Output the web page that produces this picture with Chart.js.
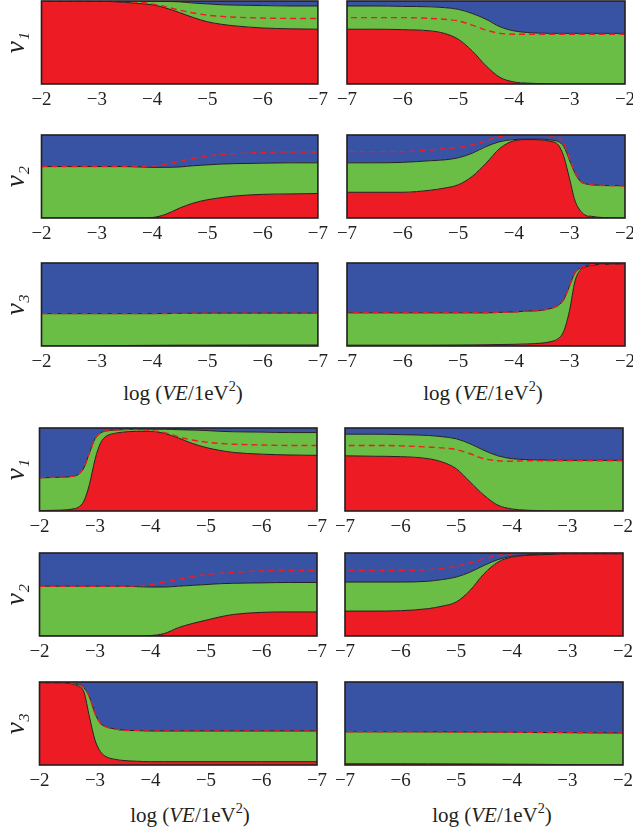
<!DOCTYPE html>
<html>
<head>
<meta charset="utf-8">
<script src="https://cdn.jsdelivr.net/npm/chart.js@4"></script>
<style>
html, body { margin: 0; padding: 0; background: #fff; }
body { width: 633px; height: 828px; position: relative; overflow: hidden; font-family: "Liberation Serif", serif; color: #231f20; }
.box { position: absolute; }
.xtitle { position: absolute; font-size: 21px; line-height: 24px; white-space: nowrap; transform: translateX(-50%); }
.xtitle sup { font-size: 0.68em; position: relative; top: -0.1em; }
</style>
</head>
<body>
<script>
/* ---------- data: x grid (log VE) and boundary curves ---------- */

const xs = [-2, -2.25, -2.5, -2.6, -2.7, -2.8, -2.9, -3, -3.1, -3.2, -3.35, -3.5, -3.75,
            -4, -4.25, -4.5, -4.75, -5, -5.25, -5.5, -6, -6.5, -7];

const tickValues = [-2, -3, -4, -5, -6, -7];

// top group, left column
const aRed   = [0.995,0.995,0.995,0.995,0.995,0.995,0.995,0.995,0.995,0.995,0.99,0.985,0.97,0.955,0.915,0.86,0.80,0.75,0.72,0.70,0.675,0.665,0.66];
const aGreen = [0.998,0.998,0.998,0.998,0.998,0.998,0.998,0.998,0.998,0.998,0.998,0.998,0.998,0.997,0.995,0.99,0.975,0.965,0.955,0.95,0.945,0.94,0.94];
const aDash  = [0.995,0.995,0.995,0.995,0.995,0.995,0.995,0.995,0.995,0.995,0.995,0.995,0.985,0.965,0.93,0.89,0.855,0.83,0.815,0.805,0.795,0.79,0.79];

const cRed   = [0,0,0,0,0,0,0,0,0,0,0,0,0,0.005,0.045,0.12,0.18,0.22,0.245,0.265,0.285,0.29,0.295];
const cGreen = [0.62,0.62,0.62,0.62,0.62,0.62,0.62,0.62,0.62,0.62,0.62,0.62,0.615,0.61,0.61,0.615,0.63,0.64,0.65,0.655,0.66,0.665,0.665];
const cDash  = [0.62,0.62,0.62,0.62,0.62,0.62,0.62,0.62,0.62,0.62,0.62,0.62,0.62,0.625,0.65,0.685,0.72,0.745,0.765,0.775,0.79,0.795,0.795];

const eRed   = [0,0,0,0,0,0,0,0.003,0.003,0.004,0.005,0.006,0.007,0.008,0.009,0.01,0.01,0.01,0.011,0.011,0.012,0.012,0.012];
const eGreen = [0.39,0.39,0.39,0.39,0.39,0.39,0.39,0.39,0.39,0.39,0.39,0.39,0.39,0.39,0.392,0.393,0.394,0.395,0.395,0.395,0.395,0.395,0.395];

// top group, right column
const bRed   = [0,0,0,0,0,0,0,0,0,0,0.002,0.005,0.01,0.025,0.08,0.22,0.40,0.54,0.61,0.64,0.655,0.66,0.66];
const bGreen = [0.61,0.61,0.61,0.61,0.61,0.61,0.61,0.61,0.61,0.61,0.61,0.612,0.62,0.64,0.69,0.78,0.85,0.90,0.92,0.93,0.935,0.94,0.94];
const bDash  = [0.60,0.60,0.60,0.60,0.60,0.60,0.60,0.60,0.60,0.60,0.60,0.60,0.60,0.60,0.61,0.65,0.71,0.76,0.78,0.79,0.80,0.80,0.80];

const dRed   = [0,0.002,0.01,0.02,0.03,0.085,0.21,0.48,0.74,0.88,0.925,0.94,0.945,0.93,0.84,0.66,0.50,0.40,0.36,0.335,0.31,0.31,0.31];
const dGreen = [0.39,0.39,0.395,0.40,0.41,0.44,0.54,0.70,0.86,0.92,0.94,0.95,0.95,0.945,0.92,0.86,0.78,0.725,0.70,0.69,0.67,0.665,0.665];
const dDash  = [0.385,0.39,0.395,0.40,0.41,0.44,0.55,0.72,0.90,0.97,0.99,0.995,0.995,0.995,0.985,0.93,0.88,0.85,0.835,0.82,0.80,0.80,0.80];

const fRed   = [0.99,0.985,0.98,0.97,0.955,0.92,0.78,0.42,0.18,0.09,0.05,0.035,0.025,0.02,0.018,0.015,0.013,0.012,0.011,0.01,0.01,0.01,0.01];
const fGreen = [0.995,0.99,0.985,0.98,0.97,0.94,0.88,0.72,0.56,0.49,0.45,0.43,0.42,0.41,0.405,0.40,0.40,0.40,0.40,0.40,0.40,0.40,0.40];

// bottom group, left column
const gRed   = [0.005,0.008,0.015,0.025,0.045,0.12,0.32,0.62,0.82,0.90,0.935,0.95,0.96,0.96,0.935,0.88,0.815,0.765,0.73,0.705,0.685,0.675,0.67];
const gGreen = [0.40,0.405,0.41,0.42,0.44,0.52,0.70,0.87,0.94,0.965,0.975,0.98,0.985,0.985,0.985,0.98,0.975,0.97,0.96,0.955,0.95,0.945,0.945];
const gDash  = [0.40,0.405,0.41,0.42,0.44,0.52,0.70,0.87,0.94,0.965,0.975,0.98,0.98,0.97,0.945,0.895,0.855,0.83,0.815,0.805,0.795,0.79,0.79];

const iRed   = [0,0,0,0,0,0,0,0,0,0,0,0,0,0.005,0.03,0.10,0.15,0.19,0.23,0.26,0.285,0.29,0.29];
const iGreen = [0.60,0.60,0.60,0.60,0.60,0.60,0.60,0.60,0.60,0.60,0.60,0.60,0.595,0.59,0.59,0.60,0.61,0.62,0.63,0.635,0.64,0.645,0.645];
const iDash  = [0.60,0.60,0.60,0.60,0.60,0.60,0.60,0.60,0.60,0.60,0.60,0.60,0.605,0.62,0.65,0.68,0.715,0.74,0.755,0.765,0.785,0.79,0.79];

const kRed   = [0.99,0.99,0.985,0.975,0.95,0.88,0.58,0.30,0.16,0.10,0.07,0.055,0.045,0.04,0.04,0.04,0.04,0.04,0.04,0.04,0.04,0.04,0.04];
const kGreen = [0.992,0.992,0.99,0.985,0.97,0.93,0.82,0.62,0.50,0.46,0.435,0.42,0.415,0.41,0.41,0.41,0.41,0.41,0.41,0.41,0.41,0.41,0.41];

// bottom group, right column
const hRed   = [0,0,0,0,0,0,0,0,0,0,0.002,0.005,0.01,0.025,0.07,0.19,0.35,0.51,0.59,0.63,0.655,0.66,0.665];
const hGreen = [0.61,0.61,0.61,0.61,0.61,0.61,0.61,0.61,0.61,0.61,0.612,0.615,0.62,0.63,0.665,0.73,0.81,0.87,0.895,0.91,0.92,0.925,0.925];
const hDash  = [0.605,0.605,0.605,0.605,0.605,0.605,0.605,0.605,0.605,0.605,0.605,0.605,0.605,0.60,0.605,0.63,0.69,0.74,0.76,0.77,0.785,0.79,0.79];

const jRed   = [0.99,0.99,0.99,0.99,0.99,0.99,0.99,0.99,0.99,0.985,0.982,0.978,0.97,0.95,0.89,0.75,0.55,0.41,0.36,0.33,0.305,0.30,0.30];
const jGreen = [0.992,0.992,0.992,0.992,0.992,0.992,0.992,0.992,0.992,0.99,0.988,0.985,0.978,0.96,0.92,0.85,0.77,0.71,0.68,0.66,0.65,0.65,0.65];
const jDash  = [0.995,0.995,0.995,0.995,0.995,0.995,0.995,0.995,0.995,0.995,0.995,0.995,0.995,0.99,0.97,0.93,0.88,0.84,0.815,0.80,0.79,0.79,0.79];

const lRed   = [0.002,0.003,0.004,0.004,0.005,0.005,0.005,0.005,0.006,0.006,0.007,0.008,0.009,0.01,0.011,0.012,0.013,0.013,0.014,0.014,0.015,0.015,0.015];
const lGreen = [0.385,0.386,0.387,0.388,0.388,0.389,0.389,0.39,0.39,0.391,0.391,0.392,0.393,0.395,0.396,0.397,0.398,0.398,0.399,0.399,0.40,0.40,0.40];

/* ---------- colours ---------- */

const RED = "#ed1c24";
const GREEN = "#6abd45";
const BLUE = "#3953a4";
const INK = "#231f20";

/* ---------- panel layout ---------- */

const panels = [
    { red: aRed, green: aGreen, dash: aDash,  label: "ν₁", col: 0, top: 1,   left: 41.5, right: 318 },
    { red: bRed, green: bGreen, dash: bDash,  label: null, col: 1, top: 1,   left: 347,  right: 625 },
    { red: cRed, green: cGreen, dash: cDash,  label: "ν₂", col: 0, top: 135, left: 41.5, right: 318 },
    { red: dRed, green: dGreen, dash: dDash,  label: null, col: 1, top: 135, left: 347,  right: 625 },
    { red: eRed, green: eGreen, dash: eGreen, label: "ν₃", col: 0, top: 263, left: 41.5, right: 318 },
    { red: fRed, green: fGreen, dash: fGreen, label: null, col: 1, top: 263, left: 347,  right: 625 },
    { red: gRed, green: gGreen, dash: gDash,  label: "ν₁", col: 0, top: 428, left: 39.5, right: 317 },
    { red: hRed, green: hGreen, dash: hDash,  label: null, col: 1, top: 428, left: 345,  right: 623 },
    { red: iRed, green: iGreen, dash: iDash,  label: "ν₂", col: 0, top: 553, left: 39.5, right: 317 },
    { red: jRed, green: jGreen, dash: jDash,  label: null, col: 1, top: 553, left: 345,  right: 623 },
    { red: kRed, green: kGreen, dash: kGreen, label: "ν₃", col: 0, top: 682, left: 39.5, right: 317 },
    { red: lRed, green: lGreen, dash: lGreen, label: null, col: 1, top: 682, left: 345,  right: 623 }
];

const PANEL_H = 83;
const PAD_TOP = 3;
const XAXIS_H = 27;

/* ---------- frame round each plot ---------- */

const framePlugin = {
    id: "frame",
    afterDatasetsDraw(chart) {
        const { ctx, chartArea: a } = chart;
        ctx.save();
        ctx.strokeStyle = INK;
        ctx.lineWidth = 1.6;
        ctx.strokeRect(a.left, a.top, a.right - a.left, a.bottom - a.top);
        ctx.restore();
    }
};

function points(values) {
    return xs.map((x, i) => ({ x, y: values[i] }));
}

function createPanel(p) {
    const isLeft = p.col === 0;
    const boxLeft = isLeft ? 0 : 333;
    const boxWidth = isLeft ? 333 : 300;

    const box = document.createElement("div");
    box.className = "box";
    box.style.left = boxLeft + "px";
    box.style.top = (p.top - PAD_TOP) + "px";
    box.style.width = boxWidth + "px";
    box.style.height = (PAD_TOP + PANEL_H + XAXIS_H) + "px";
    const canvas = document.createElement("canvas");
    box.appendChild(canvas);
    document.body.appendChild(box);

    const line = { pointRadius: 0, cubicInterpolationMode: "monotone", order: 1 };

    return new Chart(canvas, {
        type: "line",
        data: {
            datasets: [
                { ...line, data: points(p.red), borderColor: INK, borderWidth: 1, backgroundColor: RED, fill: "origin" },
                { ...line, data: points(p.green), borderColor: INK, borderWidth: 1, backgroundColor: GREEN, fill: 0 },
                { ...line, data: points(p.green), borderWidth: 0, borderColor: "rgba(0,0,0,0)", backgroundColor: BLUE, fill: "end" },
                { ...line, data: points(p.dash), borderColor: RED, borderWidth: 1.4, borderDash: [6, 4], fill: false, order: 0 }
            ]
        },
        options: {
            responsive: true,
            maintainAspectRatio: false,
            animation: false,
            events: [],
            layout: {
                padding: {
                    top: PAD_TOP,
                    bottom: 0,
                    left: isLeft ? 0 : p.left - boxLeft,
                    right: boxLeft + boxWidth - p.right
                }
            },
            plugins: {
                legend: { display: false },
                tooltip: { enabled: false }
            },
            scales: {
                x: {
                    type: "linear",
                    min: -7,
                    max: -2,
                    reverse: isLeft,
                    grid: { display: false, drawTicks: false },
                    border: { display: false },
                    afterBuildTicks(scale) {
                        scale.ticks = tickValues.map(v => ({ value: v }));
                    },
                    afterFit(scale) {
                        scale.height = XAXIS_H;
                    },
                    ticks: {
                        padding: 5,
                        maxRotation: 0,
                        color: INK,
                        font: { family: "'Liberation Serif', serif", size: 19 },
                        callback: v => "\u2212" + Math.abs(v)
                    }
                },
                y: {
                    min: 0,
                    max: 1,
                    display: isLeft,
                    grid: { display: false, drawTicks: false },
                    border: { display: false },
                    ticks: { display: false },
                    afterFit(scale) {
                        scale.width = isLeft ? p.left : 0;
                    },
                    title: {
                        display: isLeft,
                        text: p.label || "",
                        color: INK,
                        padding: { top: 1, bottom: 0 },
                        font: { family: "'Liberation Serif', serif", size: 27, style: "italic" }
                    }
                }
            }
        },
        plugins: [framePlugin]
    });
}

panels.forEach(createPanel);

/* ---------- shared x-axis titles ---------- */

const xTitles = [
    { x: 183, y: 375 },
    { x: 483, y: 375 },
    { x: 190, y: 797 },
    { x: 492, y: 797 }
];

xTitles.forEach(t => {
    const div = document.createElement("div");
    div.className = "xtitle";
    div.style.left = t.x + "px";
    div.style.top = t.y + "px";
    div.innerHTML = "log (<i>VE</i>/1eV<sup>2</sup>)";
    document.body.appendChild(div);
});
</script>
</body>
</html>
